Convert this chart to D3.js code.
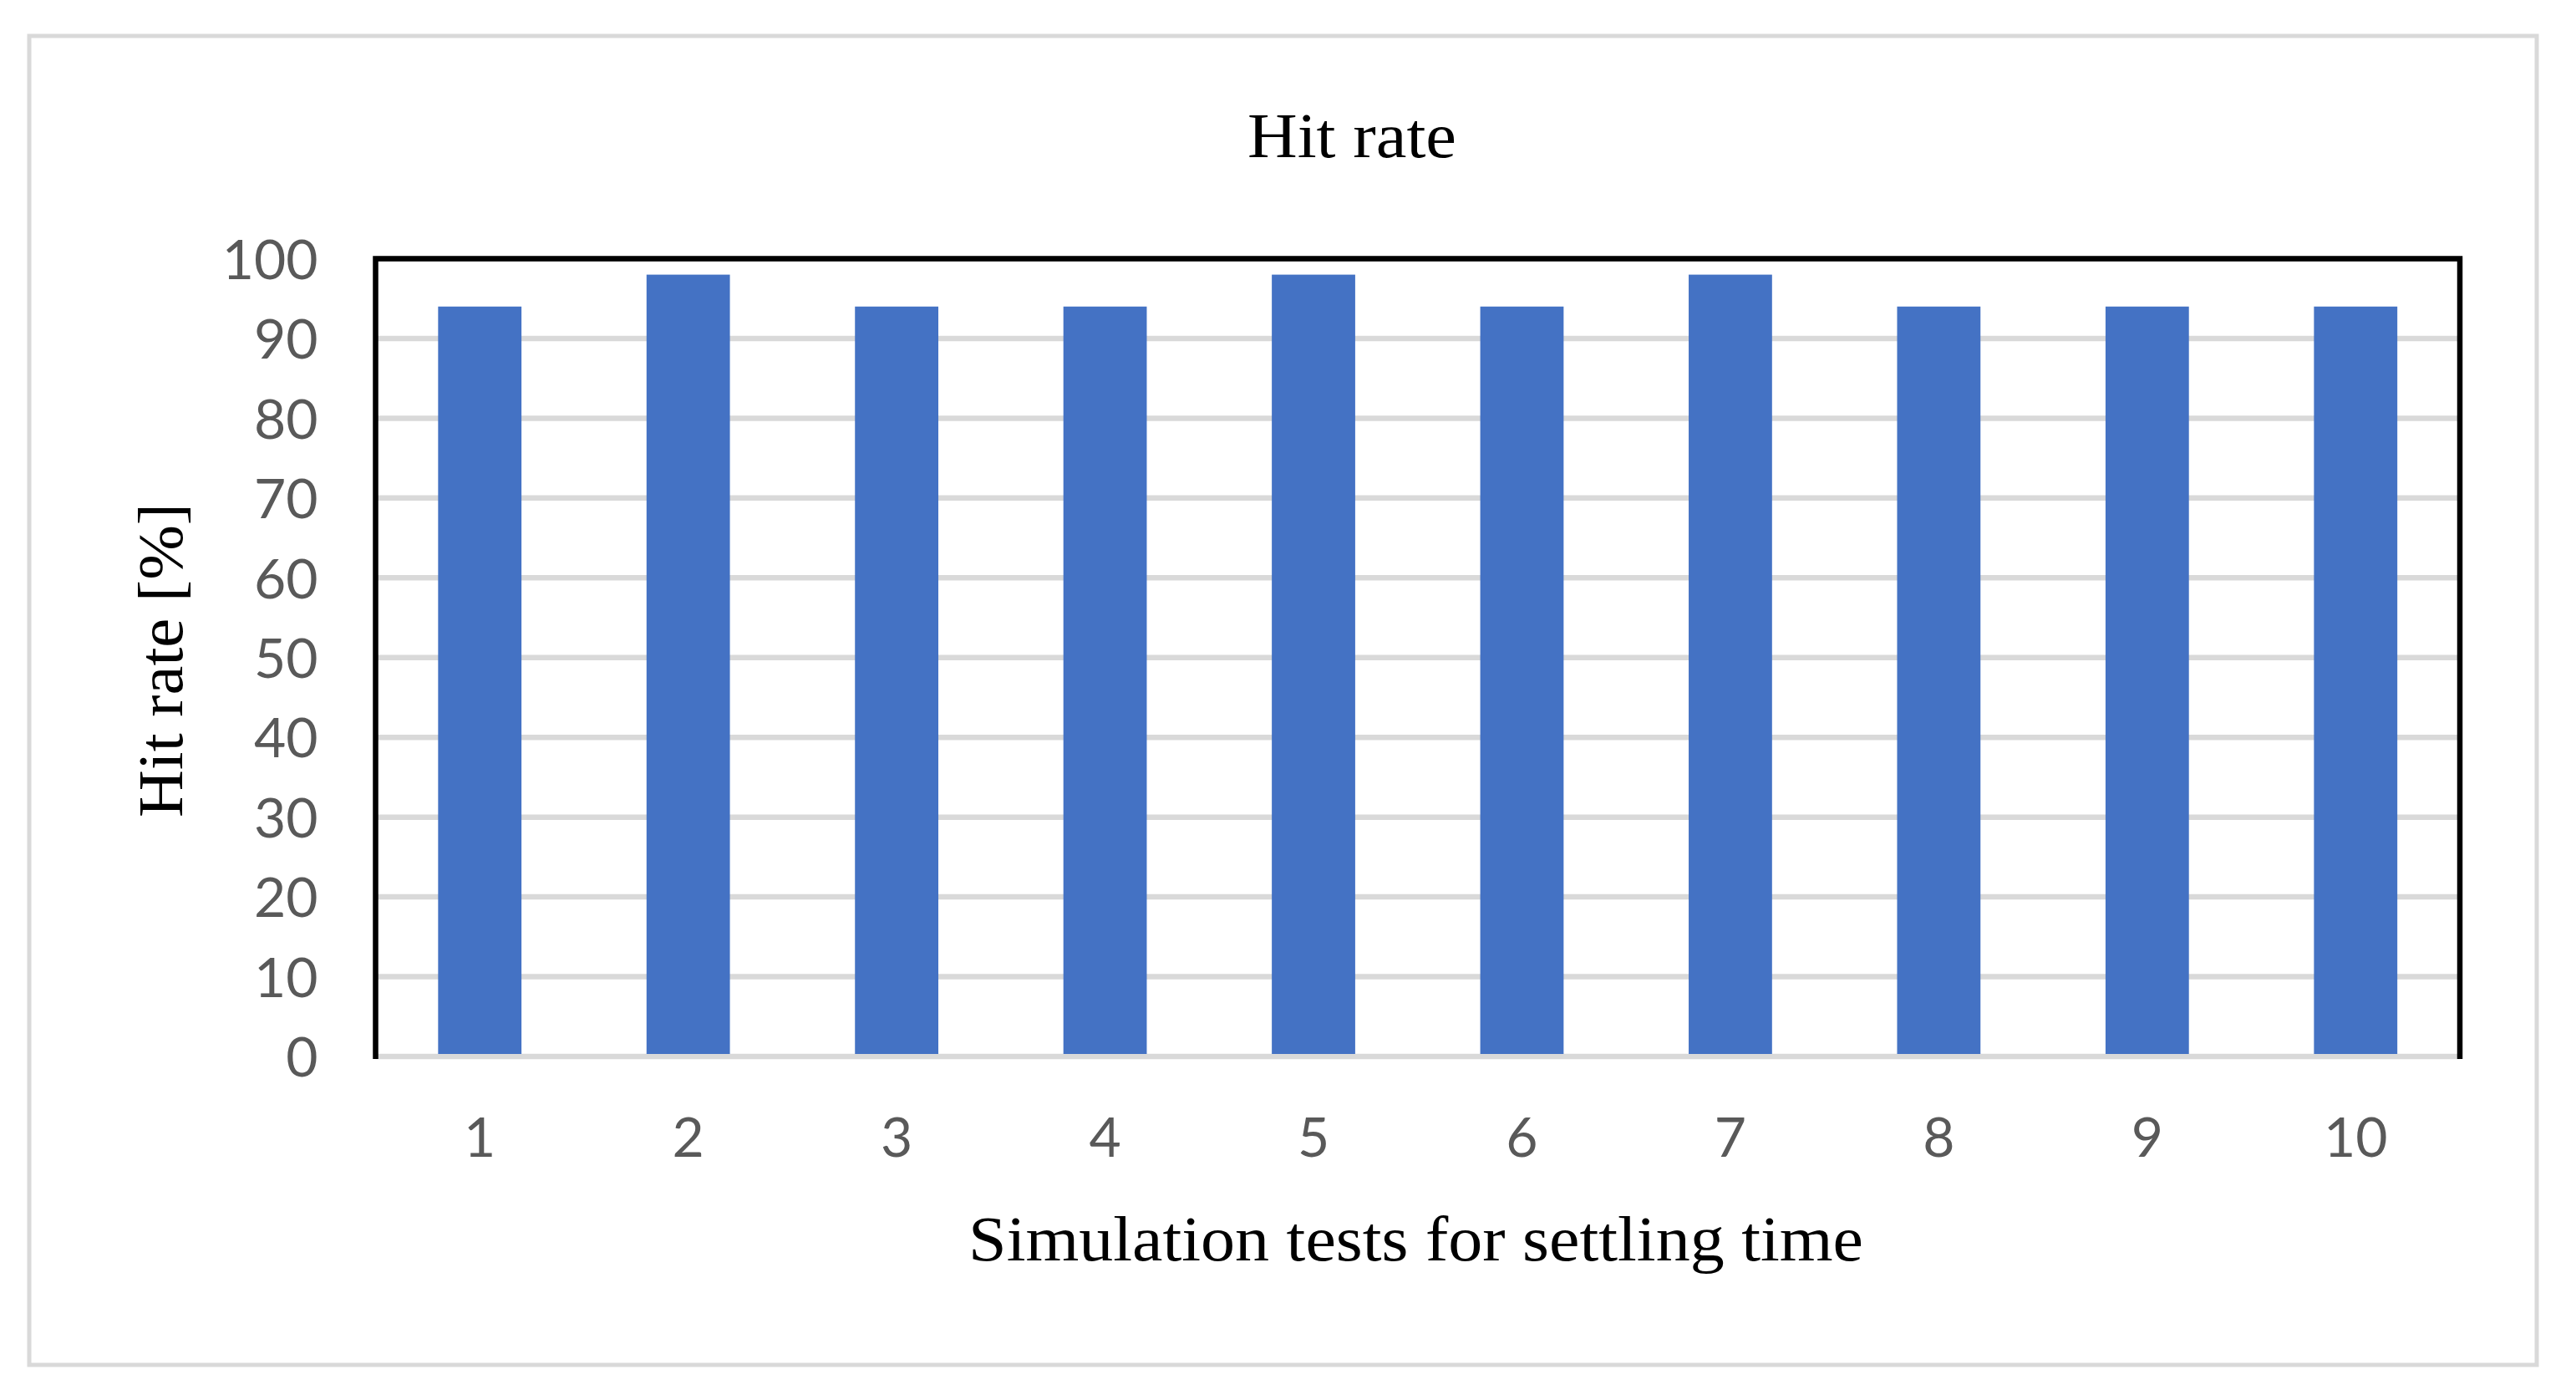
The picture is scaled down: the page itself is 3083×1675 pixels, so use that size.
<!DOCTYPE html>
<html>
<head>
<meta charset="utf-8">
<script src="https://cdn.jsdelivr.net/npm/d3@7"></script>
<style>
  body { margin: 0; background: #fff; }
</style>
</head>
<body>
<div id="chart"></div>
<script>
// data
var tests = ["1", "2", "3", "4", "5", "6", "7", "8", "9", "10"];
var hitRate = [94, 98, 94, 94, 98, 94, 98, 94, 94, 94];
var yTicks = [0, 10, 20, 30, 40, 50, 60, 70, 80, 90, 100];

var svgWidth = 3083;
var svgHeight = 1675;
var margin = {top: 309.5, right: 139, bottom: 411, left: 449.5};
var width = svgWidth - margin.left - margin.right;
var height = 1264 - margin.top;

var svg = d3.select("#chart")
            .append("svg")
            .attr("width", svgWidth)
            .attr("height", svgHeight);

// outer chart border
svg.append("rect")
   .attr("x", 35)
   .attr("y", 43)
   .attr("width", 3001)
   .attr("height", 1590)
   .attr("fill", "none")
   .attr("stroke", "#d9d9d9")
   .attr("stroke-width", 5);

var chartGroup = svg.append("g")
                    .attr("transform", `translate(${margin.left}, ${margin.top})`);

var xScale = d3.scaleBand()
               .domain(tests)
               .range([0, width])
               .paddingInner(0.6)
               .paddingOuter(0.3);

var yScale = d3.scaleLinear()
               .domain([0, 100])
               .range([height, 0]);

// gridlines
chartGroup.selectAll(".grid")
          .data(yTicks)
          .enter()
          .append("line")
          .attr("class", "grid")
          .attr("x1", 0)
          .attr("x2", width)
          .attr("y1", function(d){ return yScale(d); })
          .attr("y2", function(d){ return yScale(d); })
          .attr("stroke", "#d9d9d9")
          .attr("stroke-width", 6.5);

// bars
chartGroup.selectAll("rect.bar")
          .data(hitRate)
          .enter()
          .append("rect")
          .attr("class", "bar")
          .attr("x", function(d, i){ return xScale(tests[i]); })
          .attr("y", function(d){ return yScale(d); })
          .attr("width", xScale.bandwidth())
          .attr("height", function(d){ return height - yScale(d) - 3; })
          .attr("fill", "#4472c4");

// y axis labels
var leftAxis = d3.axisLeft(yScale).tickValues(yTicks).tickSize(0).tickPadding(69);
var yAxis = chartGroup.append("g").call(leftAxis);
yAxis.select(".domain").remove();
yAxis.selectAll("text")
     .attr("dy", "0.36em")
     .style("font-family", "Lato, 'Open Sans', sans-serif")
     .style("font-size", "66px")
     .attr("fill", "#595959");

// x axis labels
var bottomAxis = d3.axisBottom(xScale).tickSize(0);
var xAxis = chartGroup.append("g")
                      .attr("transform", `translate(0, ${height})`)
                      .call(bottomAxis);
xAxis.select(".domain").remove();
xAxis.selectAll("text")
     .attr("y", 120)
     .attr("dy", 0)
     .style("font-family", "Lato, 'Open Sans', sans-serif")
     .style("font-size", "66px")
     .attr("fill", "#595959");

// black frame on top, left and right
chartGroup.append("path")
          .attr("d", `M0,${height + 3}V0H${width}V${height + 3}`)
          .attr("fill", "none")
          .attr("stroke", "#000")
          .attr("stroke-width", 6.5);

// titles
var serif = "'Liberation Serif', 'Times New Roman', serif";
svg.append("text")
   .attr("x", 1618)
   .attr("y", 188)
   .attr("text-anchor", "middle")
   .attr("textLength", 250)
   .attr("lengthAdjust", "spacingAndGlyphs")
   .style("font-family", serif)
   .style("font-size", "77px")
   .text("Hit rate");

svg.append("text")
   .attr("transform", "translate(218, 790) rotate(-90)")
   .attr("text-anchor", "middle")
   .attr("textLength", 376)
   .attr("lengthAdjust", "spacingAndGlyphs")
   .style("font-family", serif)
   .style("font-size", "77px")
   .text("Hit rate [%]");

svg.append("text")
   .attr("x", 1694.5)
   .attr("y", 1508)
   .attr("text-anchor", "middle")
   .attr("textLength", 1071)
   .attr("lengthAdjust", "spacingAndGlyphs")
   .style("font-family", serif)
   .style("font-size", "77px")
   .text("Simulation tests for settling time");
</script>
</body>
</html>
